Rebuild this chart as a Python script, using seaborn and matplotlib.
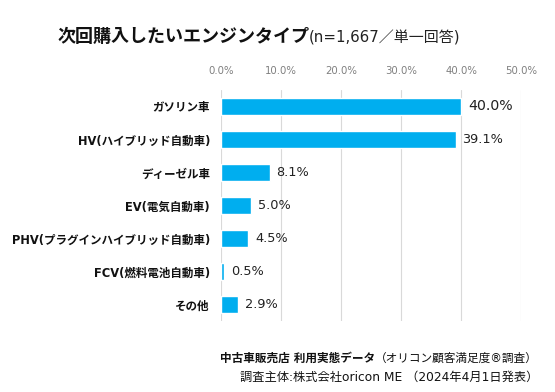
import pandas as pd
import matplotlib
matplotlib.use("Agg")
import matplotlib.pyplot as plt
import seaborn as sns

# --- data ---
categories = ["ガソリン車", "HV(ハイブリッド自動車)", "ディーゼル車", "EV(電気自動車)",
              "PHV(プラグインハイブリッド自動車)", "FCV(燃料電池自動車)", "その他"]
values = [40.0, 39.1, 8.1, 5.0, 4.5, 0.5, 2.9]
xticks = [0, 10, 20, 30, 40, 50]

df = pd.DataFrame({"type": categories, "pct": values})

sns.set_theme(style="white")
# DejaVu for latin (close to Meiryo's latin), Noto CJK for Japanese
plt.rcParams["font.family"] = ["DejaVu Sans", "Noto Sans CJK JP"]

fig = plt.figure(figsize=(5.55, 3.92), dpi=100)
ax = fig.add_axes([221 / 555, 1 - 321 / 392, 300 / 555, 231 / 392])

sns.barplot(data=df, x="pct", y="type", orient="h", color="#00AEEF",
            width=0.5, saturation=1, ax=ax)

ax.set_xlim(0, 50)
ax.set_ylim(6.5, -0.5)
ax.set_xticks(xticks)
ax.set_xticklabels([f"{t:.1f}%" for t in xticks], fontsize=7.3, color="#7f7f7f")
ax.xaxis.tick_top()
ax.tick_params(axis="x", length=0, pad=10)
ax.tick_params(axis="y", length=0, pad=8, labelsize=8.3, labelcolor="#111111")
for lab in ax.get_yticklabels():
    lab.set_fontweight("bold")
ax.set_xlabel("")
ax.set_ylabel("")
ax.grid(axis="x", color="#d9d9d9", linewidth=0.8)
ax.set_axisbelow(True)
for s in ax.spines.values():
    s.set_visible(False)

# value labels
for i, v in enumerate(values):
    ax.annotate(f"{v:.1f}%", xy=(v, i), xytext=(5, 0), textcoords="offset points",
                va="center", ha="left", fontsize=10.2 if i == 0 else 9.3, color="#222222")

# title
t = fig.text(57 / 555, 1 - 37 / 392, "次回購入したいエンジンタイプ", fontsize=13,
             fontweight="bold", va="center", ha="left", color="#111111")
ax.annotate("(n=1,667／単一回答)", xy=(1, 0.45), xycoords=t, va="center", ha="left",
            fontsize=10.8, color="#222222", annotation_clip=False)

# footer
f1 = fig.text(538 / 555, 1 - 358 / 392, "（オリコン顧客満足度®調査）", fontsize=8.4,
              ha="right", va="center", color="#111111")
ax.annotate("中古車販売店 利用実態データ", xy=(0, 0.5), xycoords=f1, va="center",
            ha="right", fontsize=8.4, fontweight="bold", color="#111111",
            annotation_clip=False)
fig.text(538 / 555, 1 - 377 / 392, "調査主体:株式会社oricon ME （2024年4月1日発表）",
         fontsize=8.8, ha="right", va="center", color="#111111")

fig.savefig("out.png", dpi=100)
